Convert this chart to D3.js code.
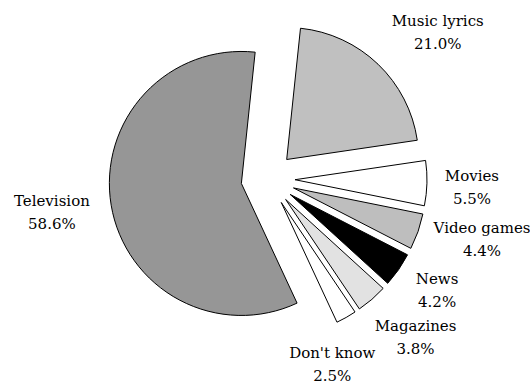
<!DOCTYPE html>
<html>
<head>
<meta charset="utf-8">
<script src="https://cdn.jsdelivr.net/npm/d3@7"></script>
<style>
  html, body { margin: 0; padding: 0; background: #fff; }
  svg { display: block; }
</style>
</head>
<body>
<svg id="chart" width="530" height="385"></svg>
<script>
// Share of respondents by media source
const categories = ["Music lyrics", "Movies", "Video games", "News", "Magazines", "Don't know", "Television"];
const shares = [21.0, 5.5, 4.4, 4.2, 3.8, 2.5, 58.6];
const fills = ["#c0c0c0", "#ffffff", "#bebebe", "#000000", "#e2e2e2", "#ffffff", "#969696"];

// layout
const W = 530, H = 385;
const cx = 268, cy = 179;
const radius = 132;
const explode = 27;
const labelRadius = 212;
const startDeg = 6;
const lineGap = 23;
const fontStack = "DejaVu Serif";

// hand-tuned label nudges (px) so the captions clear the slices
const labelShift = {
  "Music lyrics": [23, 4],
  "Movies": [-8, 0],
  "Video games": [14, -12],
  "News": [-5, -12],
  "Magazines": [9, -4],
  "Don't know": [-40, -2],
  "Television": [-7, -4]
};

const rows = categories.map((c, i) => ({ name: c, value: shares[i], fill: fills[i] }));

const a0 = startDeg * Math.PI / 180;
const pie = d3.pie()
  .sort(null)
  .value(d => d.value)
  .startAngle(a0)
  .endAngle(a0 + 2 * Math.PI);

const arc = d3.arc().innerRadius(0).outerRadius(radius);

const svg = d3.select("#chart");
const g = svg.append("g").attr("transform", `translate(${cx},${cy})`);

const arcs = pie(rows);

const mid = d => (d.startAngle + d.endAngle) / 2;

g.selectAll("path.slice")
  .data(arcs)
  .join("path")
  .attr("class", "slice")
  .attr("d", arc)
  .attr("transform", d => {
    const m = mid(d);
    return `translate(${Math.sin(m) * explode},${-Math.cos(m) * explode})`;
  })
  .attr("fill", d => d.data.fill)
  .attr("stroke", "#000")
  .attr("stroke-width", 1)
  .attr("stroke-linejoin", "miter");

const labels = g.selectAll("text.label")
  .data(arcs)
  .join("text")
  .attr("class", "label")
  .attr("text-anchor", "middle")
  .attr("font-family", fontStack)
  .attr("font-size", 15)
  .attr("fill", "#000")
  .attr("transform", d => {
    const m = mid(d);
    const s = labelShift[d.data.name] || [0, 0];
    const x = Math.sin(m) * labelRadius + s[0];
    const y = -Math.cos(m) * labelRadius + s[1];
    return `translate(${x},${y})`;
  });

labels.append("tspan")
  .attr("x", 0)
  .attr("y", -4)
  .text(d => d.data.name);

labels.append("tspan")
  .attr("x", 0)
  .attr("y", -4 + lineGap)
  .text(d => d.data.value.toFixed(1) + "%");
</script>
</body>
</html>
